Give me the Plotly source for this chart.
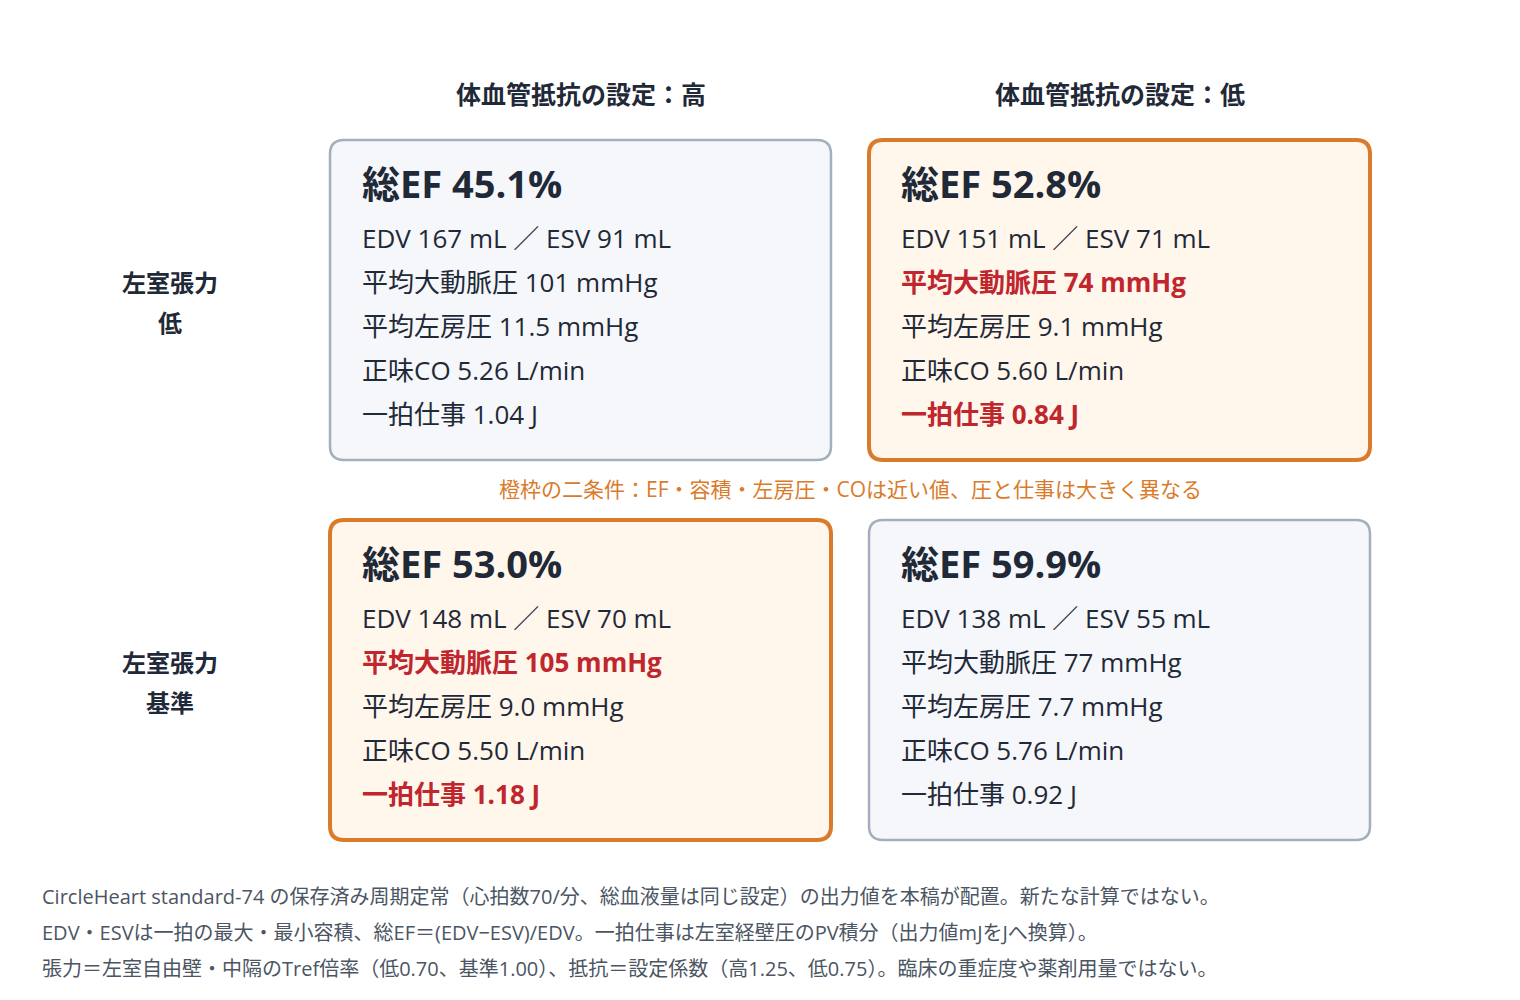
import plotly.graph_objects as go

col_headers = ["体血管抵抗の設定：高", "体血管抵抗の設定：低"]
row_headers = [["左室張力", "低"], ["左室張力", "基準"]]
ef = [[45.1, 52.8], [53.0, 59.9]]
edv = [[167, 151], [148, 138]]
esv = [[91, 71], [70, 55]]
map_ = [[101, 74], [105, 77]]
lap = [[11.5, 9.1], [9.0, 7.7]]
co = [[5.26, 5.60], [5.50, 5.76]]
work = [[1.04, 0.84], [1.18, 0.92]]
highlight = [[False, True], [True, False]]
note = "橙枠の二条件：EF・容積・左房圧・COは近い値、圧と仕事は大きく異なる"
footnotes = [
    "CircleHeart standard-74 の保存済み周期定常（心拍数70/分、総血液量は同じ設定）の出力値を本稿が配置。新たな計算ではない。",
    "EDV・ESVは一拍の最大・最小容積、総EF＝(EDV−ESV)/EDV。一拍仕事は左室経壁圧のPV積分（出力値mJをJへ換算）。",
    "張力＝左室自由壁・中隔のTref倍率（低0.70、基準1.00）、抵抗＝設定係数（高1.25、低0.75）。臨床の重症度や薬剤用量ではない。",
]

FONT = "Open Sans, Noto Sans CJK JP"
DARK = "#1f2937"
RED = "#c0262d"
ORANGE = "#d97b2a"

def rrect(x0, y0, x1, y1, r):
    return (f"M{x0+r},{y0} L{x1-r},{y0} Q{x1},{y0} {x1},{y0+r} L{x1},{y1-r} Q{x1},{y1} {x1-r},{y1} "
            f"L{x0+r},{y1} Q{x0},{y1} {x0},{y1-r} L{x0},{y0+r} Q{x0},{y0} {x0+r},{y0} Z")

fig = go.Figure()
shapes, ann = [], []
box_x = [330, 869]
box_y = [140, 520]
W, H = 501, 320

for j, t in enumerate(col_headers):
    ann.append(dict(x=box_x[j] + W / 2, y=94, text=f"<b>{t}</b>", font=dict(size=25, color=DARK)))
for i, (a, b) in enumerate(row_headers):
    ann.append(dict(x=170, y=box_y[i] + 142, text=f"<b>{a}</b>", font=dict(size=24, color=DARK)))
    ann.append(dict(x=170, y=box_y[i] + 182, text=f"<b>{b}</b>", font=dict(size=24, color=DARK)))

for i in range(2):
    for j in range(2):
        x0, y0 = box_x[j], box_y[i]
        hl = highlight[i][j]
        shapes.append(dict(type="path", path=rrect(x0, y0, x0 + W, y0 + H, 14),
                           fillcolor="#fff6ec" if hl else "#f5f7fa",
                           line=dict(color=ORANGE if hl else "#a3afbf", width=4 if hl else 2.5),
                           layer="below"))
        lines = [
            (f"<b>総EF {ef[i][j]:.1f}%</b>", 38, DARK, 183),
            (f"EDV {edv[i][j]} mL ／ ESV {esv[i][j]} mL", 26, DARK, 238),
            (f"平均大動脈圧 {map_[i][j]} mmHg", 26, RED if hl else DARK, 282),
            (f"平均左房圧 {lap[i][j]:.1f} mmHg", 26, DARK, 326),
            (f"正味CO {co[i][j]:.2f} L/min", 26, DARK, 370),
            (f"一拍仕事 {work[i][j]:.2f} J", 26, RED if hl else DARK, 414),
        ]
        for k, (txt, sz, colr, yy) in enumerate(lines):
            if hl and k in (2, 5):
                txt = f"<b>{txt}</b>"
            ann.append(dict(x=x0 + 30, y=yy - 140 + y0, text=txt, xanchor="left",
                            font=dict(size=sz, color=colr)))

ann.append(dict(x=850, y=489, text=note, font=dict(size=21, color=ORANGE)))
for k, f in enumerate(footnotes):
    ann.append(dict(x=40, y=896 + 36 * k, text=f, xanchor="left", font=dict(size=20, color="#4b5563")))

for a in ann:
    a.setdefault("xanchor", "center")
    a.update(xref="x", yref="y", showarrow=False, yanchor="middle")
    a["font"]["family"] = FONT

fig.update_layout(
    width=1520, height=1000, margin=dict(l=0, r=0, t=0, b=0),
    paper_bgcolor="white", plot_bgcolor="white",
    xaxis=dict(range=[8, 1528], visible=False, fixedrange=True),
    yaxis=dict(range=[1008, 8], visible=False, fixedrange=True),
    shapes=shapes, annotations=ann, showlegend=False,
    font=dict(family=FONT),
)
fig.write_html("out.html", config={"displayModeBar": False})
